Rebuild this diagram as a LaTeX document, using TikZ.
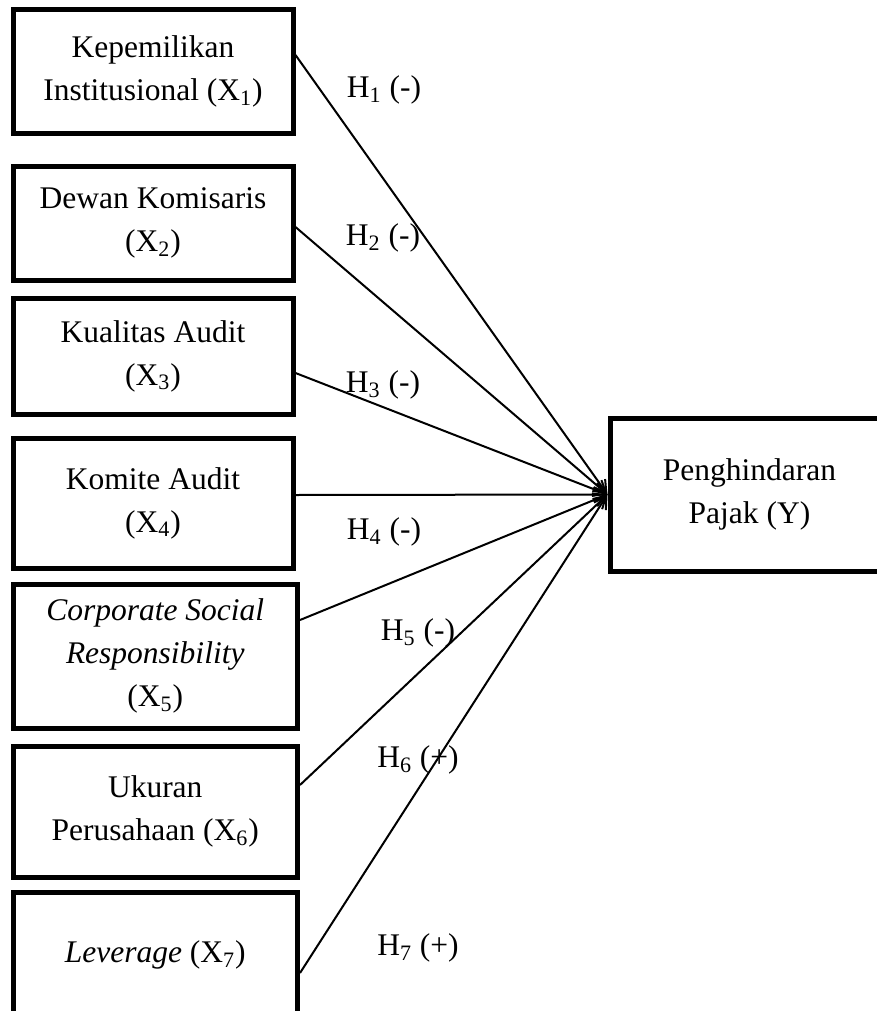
\documentclass[tikz,border=0pt]{standalone}
\usepackage{fontspec}
\setmainfont{Liberation Serif}
\usetikzlibrary{arrows.meta}
\begin{document}
\begin{tikzpicture}[x=0.5pt,y=-0.5pt,
  txt/.style={font=\fontsize{15.75}{21.5}\selectfont},
  box/.style={txt, draw, line width=2.5pt, align=center, inner sep=0pt},
  arr/.style={line width=1pt, -{Straight Barb[length=6pt,width=7pt,line width=1pt]}},
  hyp/.style={txt, inner sep=0pt}]
\useasboundingbox (0,0) rectangle (877,1011);
\clip (0,0) rectangle (877,1011);
% independent variables
\node[box, minimum width=140pt, minimum height=61.5pt] (b1) at (153,71.5) {Kepemilikan\\Institusional (X\textsubscript{1})};
\node[box, minimum width=140pt, minimum height=57pt] (b2) at (153,223) {Dewan Komisaris\\(X\textsubscript{2})};
\node[box, minimum width=140pt, minimum height=58pt] (b3) at (153,356) {Kualitas Audit\\(X\textsubscript{3})};
\node[box, minimum width=140pt, minimum height=65pt] (b4) at (153,503) {Komite Audit\\(X\textsubscript{4})};
\node[box, minimum width=142.25pt, minimum height=72pt] (b5) at (155.25,656) {\textit{Corporate Social}\\\textit{Responsibility}\\(X\textsubscript{5})};
\node[box, minimum width=142.25pt, minimum height=65.5pt] (b6) at (155.25,811.5) {Ukuran\\Perusahaan (X\textsubscript{6})};
\node[box, minimum width=142.25pt, minimum height=81.5pt] (b7) at (155.25,973.5) {\textit{Leverage} (X\textsubscript{7})\\\mbox{}};
% dependent variable
\node[box, minimum width=139.5pt, minimum height=76.5pt] (y) at (749.5,494.5) {Penghindaran\\Pajak (Y)};
% connectors
\draw[arr] (b1.east |- 0,55) -- (y.west);
\draw[arr] (b2.east |- 0,227) -- (y.west);
\draw[arr] (b3.east |- 0,373) -- (y.west);
\draw[arr] (b4.east |- 0,495) -- (y.west);
\draw[arr] (b5.east |- 0,620) -- (y.west);
\draw[arr] (b6.east |- 0,785) -- (y.west);
\draw[arr] (b7.east |- 0,973) -- (y.west);
% hypothesis labels
\node[hyp] (h1) at (384,90) {H\textsubscript{1} (-)};
\node[hyp] (h2) at (383,238) {H\textsubscript{2} (-)};
\node[hyp] (h3) at (383,385) {H\textsubscript{3} (-)};
\node[hyp] (h4) at (384,532) {H\textsubscript{4} (-)};
\node[hyp] (h5) at (418,633) {H\textsubscript{5} (-)};
\node[hyp] (h6) at (418,760) {H\textsubscript{6} (+)};
\node[hyp] (h7) at (418,948) {H\textsubscript{7} (+)};
\end{tikzpicture}
\end{document}
